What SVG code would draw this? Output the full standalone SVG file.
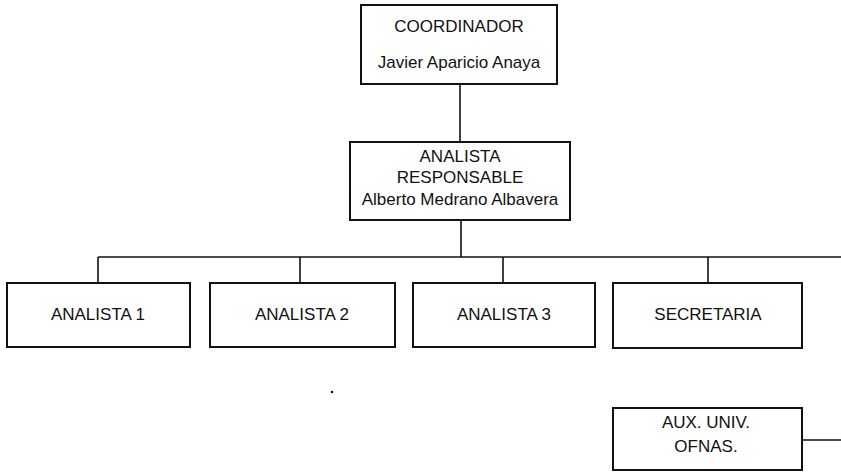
<svg xmlns="http://www.w3.org/2000/svg" width="841" height="474" viewBox="0 0 841 474">
  <style>
    .box { fill: #fff; stroke: #111; stroke-width: 2; }
    .lbl { font-family: "Liberation Sans", Arial, sans-serif; font-size: 17px; fill: #111; text-anchor: middle; }
    .wire { fill: none; stroke: #111; stroke-width: 1.6; }
  </style>
  <rect width="841" height="474" fill="#fff"/>

  <!-- connectors -->
  <g id="connectors">
    <line class="wire" x1="460" y1="84" x2="460" y2="142"/>
    <line class="wire" x1="461" y1="220" x2="461" y2="257"/>
    <line class="wire" x1="98" y1="257" x2="841" y2="257"/>
    <line class="wire" x1="98" y1="257" x2="98" y2="283"/>
    <line class="wire" x1="300" y1="257" x2="300" y2="283"/>
    <line class="wire" x1="503" y1="257" x2="503" y2="283"/>
    <line class="wire" x1="708" y1="257" x2="708" y2="283"/>
    <line class="wire" x1="802" y1="440" x2="841" y2="440"/>
  </g>

  <g id="coordinador">
    <rect class="box" x="361" y="5" width="196" height="79"/>
    <text class="lbl" x="459" y="32">COORDINADOR</text>
    <text class="lbl" x="459" y="68">Javier Aparicio Anaya</text>
  </g>

  <g id="analista-responsable">
    <rect class="box" x="350" y="142" width="220" height="78"/>
    <text class="lbl" x="460" y="162">ANALISTA</text>
    <text class="lbl" x="460" y="183">RESPONSABLE</text>
    <text class="lbl" x="460" y="205">Alberto Medrano Albavera</text>
  </g>

  <g id="analista-1">
    <rect class="box" x="7" y="283" width="183" height="64"/>
    <text class="lbl" x="98" y="320">ANALISTA 1</text>
  </g>

  <g id="analista-2">
    <rect class="box" x="210" y="283" width="185" height="64"/>
    <text class="lbl" x="302" y="320">ANALISTA 2</text>
  </g>

  <g id="analista-3">
    <rect class="box" x="413" y="283" width="182" height="64"/>
    <text class="lbl" x="504" y="320">ANALISTA 3</text>
  </g>

  <g id="secretaria">
    <rect class="box" x="613" y="283" width="189" height="65"/>
    <text class="lbl" x="708" y="320">SECRETARIA</text>
  </g>

  <g id="aux-univ">
    <rect class="box" x="613" y="408" width="189" height="62"/>
    <text class="lbl" x="706" y="428">AUX. UNIV.</text>
    <text class="lbl" x="706" y="452">OFNAS.</text>
  </g>

  <circle cx="332" cy="392" r="1.3" fill="#111"/>
</svg>
